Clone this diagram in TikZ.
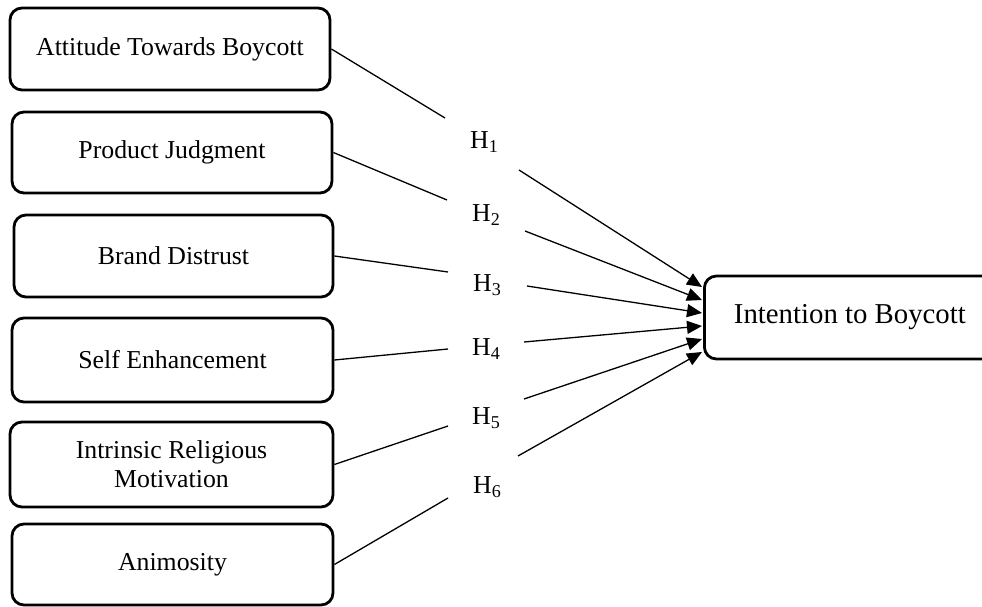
\documentclass[tikz,border=0pt]{standalone}
\usepackage{fontspec}
\setmainfont{Liberation Serif}
\usetikzlibrary{arrows.meta}
\begin{document}
\begin{tikzpicture}[x=1pt,y=-1pt,
  varbox/.style={draw=black, line width=2.8pt, rounded corners=12pt, inner sep=0pt,
    align=center, font=\fontsize{25.8}{29}\selectfont},
  hlab/.style={inner sep=0pt, anchor=west, font=\fontsize{25.8}{29}\selectfont},
  link/.style={draw=black, line width=1.3pt},
  arr/.style={link, -{Triangle[length=15pt,width=13pt]}}]
\useasboundingbox (0,0) rectangle (982,607);
% predictor boxes
\node[varbox, minimum width=320pt, minimum height=82pt] (b1) at (170,49) {Attitude Towards Boycott};
\node[varbox, minimum width=320pt, minimum height=81pt] (b2) at (172,152.5) {Product Judgment};
\node[varbox, minimum width=319pt, minimum height=82pt] (b3) at (173.5,256) {Brand Distrust};
\node[varbox, minimum width=321pt, minimum height=84pt] (b4) at (172.5,360) {Self Enhancement};
\node[varbox, minimum width=323pt, minimum height=85pt] (b5) at (171.5,464.5) {Intrinsic Religious\\Motivation};
\node[varbox, minimum width=321pt, minimum height=81pt] (b6) at (172.5,564.5) {Animosity};
% outcome box (right edge cut by the frame)
\node[varbox, minimum width=300pt, minimum height=83pt, anchor=west, font=\fontsize{28.8}{32}\selectfont] (t) at (703,317.5) {\hspace*{-9pt}Intention to Boycott};
% hypothesis labels
\node[hlab] (h1) at (470,142) {H\textsubscript{1}};
\node[hlab] (h2) at (472,215) {H\textsubscript{2}};
\node[hlab] (h3) at (473,285) {H\textsubscript{3}};
\node[hlab] (h4) at (472,349) {H\textsubscript{4}};
\node[hlab] (h5) at (472,418) {H\textsubscript{5}};
\node[hlab] (h6) at (473,487) {H\textsubscript{6}};
% line ends
\coordinate (a1) at (445,118); \coordinate (c1) at (519,170); \coordinate (e1) at (702,287);
\coordinate (a2) at (447,200); \coordinate (c2) at (525,231); \coordinate (e2) at (702,300);
\coordinate (a3) at (448,272); \coordinate (c3) at (527,286); \coordinate (e3) at (702,313);
\coordinate (a4) at (448,349); \coordinate (c4) at (524,342); \coordinate (e4) at (702,326);
\coordinate (a5) at (448,426); \coordinate (c5) at (524,399); \coordinate (e5) at (702,339);
\coordinate (a6) at (448,498); \coordinate (c6) at (518,456); \coordinate (e6) at (702,352);
% connectors
\draw[link] (b1.east) -- (a1); \draw[arr] (c1) -- (e1);
\draw[link] (b2.east) -- (a2); \draw[arr] (c2) -- (e2);
\draw[link] (b3.east) -- (a3); \draw[arr] (c3) -- (e3);
\draw[link] (b4.east) -- (a4); \draw[arr] (c4) -- (e4);
\draw[link] (b5.east) -- (a5); \draw[arr] (c5) -- (e5);
\draw[link] (b6.east) -- (a6); \draw[arr] (c6) -- (e6);
\end{tikzpicture}
\end{document}
